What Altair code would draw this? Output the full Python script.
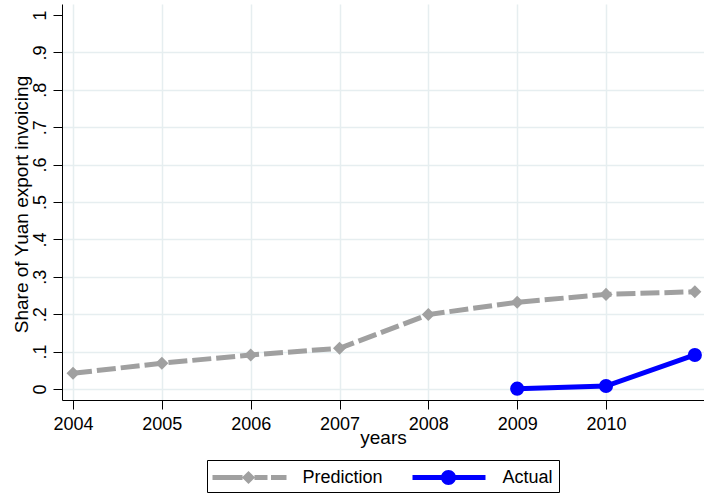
import altair as alt
import pandas as pd

# ---- data ----
years = [2004, 2005, 2006, 2007, 2008, 2009, 2010, 2011]
prediction = [0.042, 0.069, 0.091, 0.109, 0.199, 0.232, 0.253, 0.260]
actual_years = [2009, 2010, 2011]
actual = [0.001, 0.008, 0.091]

series_names = ["Prediction", "Actual"]
series_colors = ["#a0a0a0", "#0000ff"]

x_tick_values = [2004, 2005, 2006, 2007, 2008, 2009, 2010]
y_tick_values = [0.0, 0.1, 0.2, 0.3, 0.4, 0.5, 0.6, 0.7, 0.8, 0.9, 1.0]
y_tick_labels = ["0", ".1", ".2", ".3", ".4", ".5", ".6", ".7", ".8", ".9", "1"]

FONT = "Liberation Sans"

pred_df = pd.DataFrame({"year": years, "share": prediction, "series": "Prediction"})
act_df = pd.DataFrame({"year": actual_years, "share": actual, "series": "Actual"})
all_df = pd.concat([pred_df, act_df], ignore_index=True)

label_expr = "{" + ",".join(
    f"'{v:.1f}': '{l}'" for v, l in zip(y_tick_values, y_tick_labels)
) + "}[format(datum.value, '.1f')]"

x_scale = alt.Scale(domain=[2003.876, 2011.103], nice=False, zero=False)
y_scale = alt.Scale(domain=[-0.0294, 1.0294], nice=False, zero=False)

x_axis = alt.Axis(
    title="years",
    values=x_tick_values,
    format="d",
    labelFontSize=18,
    labelFont=FONT,
    labelColor="black",
    labelPadding=6,
    labelOverlap=False,
    tickSize=9,
    tickColor="black",
    domainColor="black",
    grid=True,
    gridColor="#e6eef0",
    gridWidth=1.5,
    titleFontSize=19,
    titleFont=FONT,
    titleFontWeight="normal",
    titleColor="black",
    titleBaseline="alphabetic",
    titleY=43,
)
y_axis = alt.Axis(
    title="Share of Yuan export invoicing",
    values=y_tick_values,
    tickCount=11,
    labelExpr=label_expr,
    labelAngle=270,
    labelAlign="center",
    labelBaseline="alphabetic",
    labelFontSize=18,
    labelFont=FONT,
    labelColor="black",
    labelPadding=8,
    labelOverlap=False,
    labelBound=False,
    tickSize=9,
    tickColor="black",
    domainColor="black",
    grid=True,
    gridColor="#e6eef0",
    gridWidth=1.5,
    gridOpacity={"condition": {"test": "datum.value > 0.95", "value": 0}, "value": 1},
    titleFontSize=19,
    titleFont=FONT,
    titleFontWeight="normal",
    titleColor="black",
    titleAngle=270,
    titleAlign="center",
    titleBaseline="alphabetic",
    titleX=-35,
    titleY=200,
)

def xe():
    return alt.X("year:Q", scale=x_scale, axis=x_axis)

def ye():
    return alt.Y("share:Q", scale=y_scale, axis=y_axis)

# legend symbol paths (line + marker), unit = 12 px
pred_path = (
    "M-1,-0.208H1.5V0.208H-1Z "
    "M2,-0.55L2.55,0L2,0.55L1.45,0Z "
    "M2.5,-0.208H3.583V0.208H2.5Z "
    "M3.875,-0.208H5.167V0.208H3.875Z"
)
act_path = (
    "M-1,-0.208H1.5V0.208H-1Z "
    "M2.5,-0.208H5.083V0.208H2.5Z "
    "M2.625,0A0.625,0.625,0,1,1,1.375,0A0.625,0.625,0,1,1,2.625,0Z"
)

pred_line = alt.Chart(pred_df).mark_line(
    color=series_colors[0], strokeWidth=5, strokeDash=[19, 5], strokeCap="butt"
).encode(x=xe(), y=ye())
pred_pts = alt.Chart(pred_df).mark_point(
    shape="diamond", filled=True, size=170, color=series_colors[0], opacity=1
).encode(x=xe(), y=ye())

act_line = alt.Chart(act_df).mark_line(
    color=series_colors[1], strokeWidth=5
).encode(x=xe(), y=ye())
act_pts = alt.Chart(act_df).mark_point(
    shape="circle", filled=True, size=200, color=series_colors[1], opacity=1
).encode(x=xe(), y=ye())

legend_layer = alt.Chart(all_df).transform_filter("false").mark_point(
    filled=True, opacity=1
).encode(
    x=xe(),
    y=ye(),
    color=alt.Color(
        "series:N",
        scale=alt.Scale(domain=series_names, range=series_colors),
        legend=alt.Legend(
            title=None,
            orient="none",
            legendX=145,
            legendY=456,
            direction="horizontal",
            columns=2,
            symbolSize=576,
            symbolStrokeWidth=0,
            symbolOpacity=1,
            labelOffset=66,
            columnPadding=29,
            padding=5.5,
            strokeColor="black",
            labelFontSize=18,
            labelFont=FONT,
            labelColor="black",
        ),
    ),
    shape=alt.Shape(
        "series:N",
        scale=alt.Scale(domain=series_names, range=[pred_path, act_path]),
    ),
)

chart = alt.layer(pred_line, pred_pts, act_line, act_pts, legend_layer).properties(
    width=642,
    height=396,
    padding={"left": 62, "top": 4, "right": 0, "bottom": 97},
    autosize=alt.AutoSizeParams(type="none"),
    background="white",
).configure_view(stroke=None).configure_axis(domainWidth=1, tickWidth=1)

chart.save("out.html", embed_options={"renderer": "svg", "actions": False})
